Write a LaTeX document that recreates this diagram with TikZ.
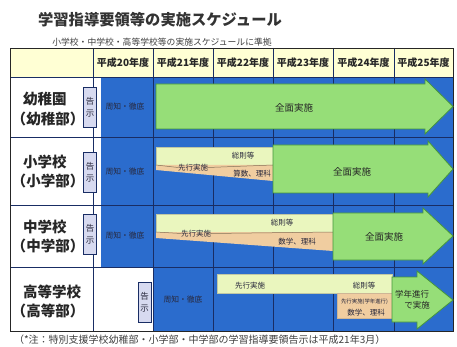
\documentclass[tikz,border=0pt]{standalone}
\usepackage{fontspec}
\setmainfont{Noto Sans CJK JP}
\definecolor{blueF}{RGB}{43,108,205}
\definecolor{gridD}{RGB}{25,45,100}
\definecolor{hdrY}{RGB}{255,255,212}
\definecolor{lav}{RGB}{215,218,240}
\definecolor{greenF}{RGB}{150,222,120}
\definecolor{greenD}{RGB}{70,150,60}
\definecolor{barY}{RGB}{234,246,190}
\definecolor{tanF}{RGB}{240,205,160}
\definecolor{textD}{RGB}{40,40,60}
\begin{document}
\begin{tikzpicture}[x=1pt,y=-1pt,
  every node/.style={inner sep=0pt, outer sep=0pt},
  titletxt/.style={font=\bfseries\fontsize{15.3}{16}\selectfont, text=black!80},
  subtxt/.style={font=\fontsize{8.8}{9}\selectfont, text=black!75},
  hdr/.style={font=\bfseries\fontsize{10}{10}\selectfont, text=black!85},
  school/.style={font=\bfseries\fontsize{14.5}{14.5}\selectfont, text=black!85},
  kokuji/.style={draw=gridD, fill=lav, line width=0.6pt, minimum width=13pt, minimum height=40pt, align=center, font=\fontsize{8.5}{12}\selectfont, text=textD},
  shuchi/.style={font=\fontsize{7.8}{8}\selectfont, text=textD},
  garrow/.style={fill=greenF, draw=greenD, line width=0.8pt, line join=miter},
  ybar/.style={fill=barY, draw=barY!60!gray, line width=0.4pt},
  tanbox/.style={fill=tanF, draw=tanF!70!gray, line width=0.4pt},
  bline/.style={draw=tanF!55!black, line width=0.5pt},
  lbl/.style={font=\fontsize{7.5}{8}\selectfont, text=textD},
  gtxt/.style={font=\fontsize{9.5}{10}\selectfont, text=black!85, align=center},
  grid/.style={draw=gridD, line width=0.7pt},
  foot/.style={font=\fontsize{10}{10}\selectfont, text=black!75},
  ]
\useasboundingbox[fill=white] (0,0) rectangle (457,347);
% title
\node[titletxt] (title) at (160,20) {学習指導要領等の実施スケジュール};
\node[subtxt] (sub) at (162,42) {小学校・中学校・高等学校等の実施スケジュールに準拠};
% backgrounds
\fill[hdrY] (10,48) rectangle (453,77);
\fill[blueF] (101,77) rectangle (453,267);
\fill[blueF] (153,267) rectangle (453,331);
% grid
\draw[grid] (10,77) -- (453,77);
\foreach \yy in {137,205,267} \draw[grid] (10,\yy) -- (453,\yy);
\foreach \xx in {93,153,213,273,333,394} \draw[grid] (\xx,48) -- (\xx,331);
\draw[black!85, line width=0.9pt] (10,48) rectangle (453,331);
% header
\node[hdr] (h20) at (123,62.5) {平成20年度};
\node[hdr] (h21) at (183,62.5) {平成21年度};
\node[hdr] (h22) at (243,62.5) {平成22年度};
\node[hdr] (h23) at (303,62.5) {平成23年度};
\node[hdr] (h24) at (363.5,62.5) {平成24年度};
\node[hdr] (h25) at (423.5,62.5) {平成25年度};
% school names
\node[school, anchor=west] (s1a) at (23,99) {幼稚園};
\node[school] (s1b) at (48,119) {（幼稚部）};
\node[school, anchor=west] (s2a) at (23,162) {小学校};
\node[school] (s2b) at (48,181) {（小学部）};
\node[school, anchor=west] (s3a) at (23,227) {中学校};
\node[school] (s3b) at (48,246) {（中学部）};
\node[school, anchor=west] (s4a) at (23,292) {高等学校};
\node[school] (s4b) at (48,311) {（高等部）};
% kokuji
\node[kokuji] (k1) at (90,107) {告\\示};
\node[kokuji] (k2) at (90,172.5) {告\\示};
\node[kokuji] (k3) at (90,234.5) {告\\示};
\node[kokuji] (k4) at (144.5,302.5) {告\\示};
% shuchi
\node[shuchi] (c1) at (125,107) {周知・徹底};
\node[shuchi] (c2) at (125,172) {周知・徹底};
\node[shuchi] (c3) at (125,236) {周知・徹底};
\node[shuchi] (c4) at (183,300) {周知・徹底};
% row 1 arrow
\draw[garrow] (156,84) -- (425,84) -- (425,79) -- (453,106.5) -- (425,134) -- (425,129) -- (156,129) -- cycle;
\node[gtxt] (g1) at (294,108) {全面実施};
% row 2
\draw[ybar] (156,147) rectangle (273,165);
\fill[tanF] (156,165) -- (273,165) -- (273,181) -- (156,170) -- cycle;
\node[lbl] (p2) at (193,167.5) {先行実施};
\draw[bline] (156,165) -- (p2.west);
\draw[bline] (p2.east) -- (273,165);
\node[lbl] (t2a) at (243,156) {総則等};
\node[lbl] (t2b) at (252,173.5) {算数、理科};
\draw[garrow] (273,145) -- (428,145) -- (428,141) -- (453,169) -- (428,197) -- (428,193) -- (273,193) -- cycle;
\node[gtxt] (g2) at (352,172) {全面実施};
% row 3
\draw[ybar] (156,214) rectangle (333,232);
\fill[tanF] (156,232) -- (333,232) -- (333,251) -- (156,238) -- cycle;
\node[lbl] (p3) at (196,233.5) {先行実施};
\draw[bline] (156,232) -- (p3.west);
\draw[bline] (p3.east) -- (333,232);
\node[lbl] (t3a) at (282,223) {総則等};
\node[lbl] (t3b) at (297,242) {数学、理科};
\draw[garrow] (333,213) -- (423,213) -- (423,208) -- (453,236) -- (423,264) -- (423,260) -- (333,260) -- cycle;
\node[gtxt] (g3) at (384,237) {全面実施};
% row 4
\draw[ybar] (217,274) rectangle (392,293);
\draw[tanbox] (337,293) rectangle (392,318);
\node[lbl] (p4) at (250,285.5) {先行実施};
\node[lbl] (t4a) at (364,285.5) {総則等};
\node[font=\fontsize{5.4}{6}\selectfont, text=textD] (t4b) at (364.5,302) {先行実施(学年進行)};
\node[lbl] (t4c) at (366,312.5) {数学、理科};
\draw[garrow] (392,277) -- (417,277) -- (417,271) -- (453,300) -- (417,329) -- (417,322) -- (392,322) -- cycle;
\node[gtxt, font=\fontsize{8.5}{11}\selectfont] (g4) at (412,300) {学年進行\\\hspace*{1.2em}で実施};
% footer
\node[foot, anchor=west] (ft) at (14,340) {（*注：特別支援学校幼稚部・小学部・中学部の学習指導要領告示は平成21年3月）};
\end{tikzpicture}
\end{document}
